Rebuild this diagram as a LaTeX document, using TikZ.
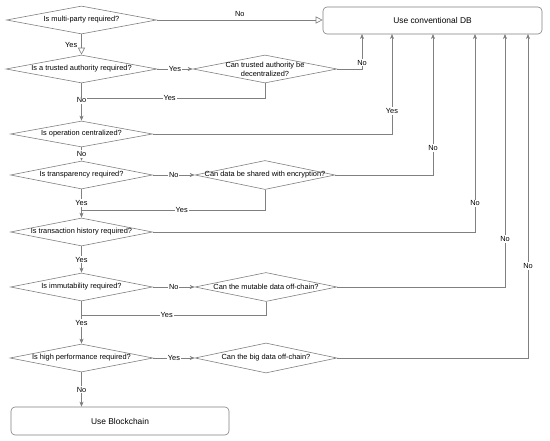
\documentclass[tikz,border=0pt]{standalone}
\usepackage{fontspec}
\setmainfont{Liberation Sans}
\usetikzlibrary{shapes.geometric,arrows.meta,calc}
\definecolor{lc}{HTML}{808080}
\begin{document}
\begin{tikzpicture}[x=1pt,y=-1pt,
  dia/.style={shape=diamond,draw=lc,line width=0.6pt,inner sep=0pt},
  box/.style={shape=rectangle,draw=lc,line width=0.6pt,rounded corners=4pt,inner sep=0pt,text=black,font=\fontsize{8.4}{10}\selectfont},
  txt/.style={inner sep=0pt,text=black,font=\fontsize{7.4}{9}\selectfont,align=center},
  lbl/.style={fill=white,inner sep=1pt,text=black,font=\fontsize{7.4}{8}\selectfont},
  conn/.style={draw=lc,line width=0.6pt},
  arr/.style={conn,-{Stealth[length=5pt,width=4pt,inset=1.5pt,fill=lc]}},
  oarr/.style={conn,-{Triangle[open,length=7pt,width=7pt]}},
]
\useasboundingbox (0,0) rectangle (550,441);

% terminal boxes
\node[box,minimum width=219pt,minimum height=27pt] (db) at (432.5,20.5) {Use conventional DB};
\node[box,minimum width=218pt,minimum height=28pt] (bc) at (120,421) {Use Blockchain};

% left diamonds
\node[dia,minimum width=150pt,minimum height=28pt] (d1) at (81.5,20) {};
\node[txt] (d1t) at (d1) {Is multi-party required?};
\node[dia,minimum width=151pt,minimum height=28pt] (d2) at (81.5,69) {};
\node[txt] (d2t) at (d2) {Is a trusted authority required?};
\node[dia,minimum width=142pt,minimum height=26pt] (d3) at (81.5,134) {};
\node[txt] (d3t) at (d3) {Is operation centralized?};
\node[dia,minimum width=142pt,minimum height=28pt] (d4) at (81.5,175) {};
\node[txt] (d4t) at (d4) {Is transparency required?};
\node[dia,minimum width=142pt,minimum height=28pt] (d5) at (81.5,232) {};
\node[txt] (d5t) at (d5) {Is transaction history required?};
\node[dia,minimum width=142pt,minimum height=28pt] (d6) at (81.5,287) {};
\node[txt] (d6t) at (d6) {Is immutability required?};
\node[dia,minimum width=143pt,minimum height=28pt] (d7) at (81.5,358) {};
\node[txt] (d7t) at (d7) {Is high performance required?};

% right diamonds
\node[dia,minimum width=144pt,minimum height=28pt] (r2) at (265,69) {};
\node[txt] (r2t) at (r2) {Can trusted authority be\\decentralized?};
\node[dia,minimum width=140pt,minimum height=29pt] (r4) at (265,175) {};
\node[txt] (r4t) at (r4) {Can data be shared with encryption?};
\node[dia,minimum width=142pt,minimum height=29pt] (r6) at (266,287) {};
\node[txt] (r6t) at (r6) {Can the mutable data off-chain?};
\node[dia,minimum width=142pt,minimum height=30pt] (r7) at (266,358) {};
\node[txt] (r7t) at (r7) {Can the big data off-chain?};

% entry points on DB box
\coordinate (in1) at (362,34);
\coordinate (in2) at (392,34);
\coordinate (in3) at (433,34);
\coordinate (in4) at (475,34);
\coordinate (in5) at (505,34);
\coordinate (in6) at (528,34);
% junctions
\coordinate (j2) at (81.5,98);
\coordinate (j4) at (81.5,210);
\coordinate (j6) at (81.5,315);

% connectors
\draw[oarr] (d1.east) -- (d1.east -| db.west) node[midway,above=2pt,lbl,fill=none] {No};
\draw[oarr] (d1.south) -- (d2.north) node[midway,left=3pt,lbl,fill=none] {Yes};

\draw[arr] (d2.east) -- (r2.west) node[midway,lbl] {Yes};
\draw[arr] (r2.east) -| (in1) node[pos=0.59,lbl] {No};
\draw[conn] (r2.south) |- (j2) node[pos=0.76,lbl] {Yes};
\draw[arr] (d2.south) -- (d3.north) node[pos=0.45,lbl] {No};

\draw[arr] (d3.east) -| (in2) node[pos=0.615,lbl] {Yes};
\draw[arr] (d3.south) -- (d4.north) node[midway,lbl] {No};

\draw[arr] (d4.east) -- (r4.west) node[midway,lbl] {No};
\draw[arr] (r4.east) -| (in3) node[pos=0.596,lbl] {No};
\draw[conn] (r4.south) |- (j4) node[pos=0.727,lbl] {Yes};
\draw[arr] (d4.south) -- (d5.north) node[pos=0.48,lbl] {Yes};

\draw[arr] (d5.east) -| (in4) node[pos=0.573,lbl] {No};
\draw[arr] (d5.south) -- (d6.north) node[midway,lbl] {Yes};

\draw[arr] (d6.east) -- (r6.west) node[midway,lbl] {No};
\draw[arr] (r6.east) -| (in5) node[pos=0.595,lbl] {No};
\draw[conn] (r6.south) |- (j6) node[pos=0.769,lbl] {Yes};
\draw[arr] (d6.south) -- (d7.north) node[pos=0.51,lbl] {Yes};

\draw[arr] (d7.east) -- (r7.west) node[midway,lbl] {Yes};
\draw[arr] (r7.east) -| (in6) node[pos=0.642,lbl] {No};
\draw[arr] (d7.south) -- (bc.north -| d7.south) node[midway,lbl] {No};
\end{tikzpicture}
\end{document}
